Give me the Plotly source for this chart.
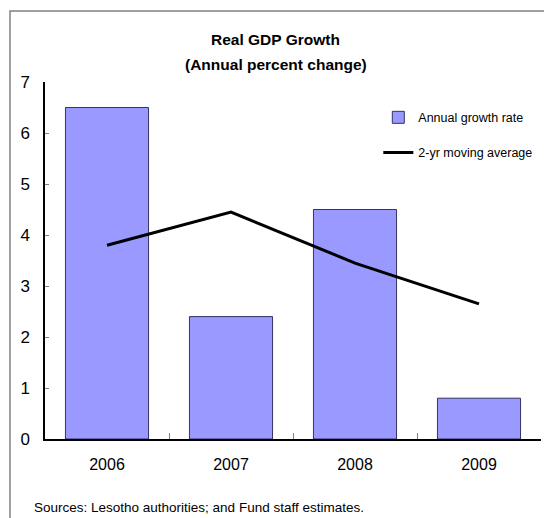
import plotly.graph_objects as go

years = ["2006", "2007", "2008", "2009"]
growth = [6.5, 2.4, 4.5, 0.8]
moving_avg = [3.8, 4.45, 3.45, 2.65]
y_ticks = [0, 1, 2, 3, 4, 5, 6, 7]

FONT = "Liberation Sans, Arial, sans-serif"

fig = go.Figure()
fig.add_trace(go.Bar(
    x=years, y=growth, name="Annual growth rate",
    marker=dict(color="#9999FF", line=dict(color="#333366", width=1)),
    legendgroup="a",
))
fig.add_trace(go.Scatter(
    x=years, y=moving_avg, name="2-yr moving average", mode="lines",
    line=dict(color="black", width=3),
    legendgroup="b",
))

fig.update_layout(
    width=544, height=518,
    margin=dict(l=45, r=3, t=82, b=79),
    paper_bgcolor="white", plot_bgcolor="white",
    bargap=0.33,
    font=dict(family=FONT, size=16, color="black"),
    showlegend=True,
    legend=dict(
        x=0.672, y=0.942, xanchor="left", yanchor="top",
        font=dict(family=FONT, size=12.5, color="black"),
        bgcolor="rgba(0,0,0,0)",
        traceorder="grouped", tracegroupgap=16,
        itemwidth=30,
    ),
)

fig.update_xaxes(
    type="category",
    showline=True, linecolor="black", linewidth=1.5,
    ticks="inside", tickson="boundaries", ticklen=6, tickcolor="#808080",
    showgrid=False, zeroline=False,
    tickfont=dict(family=FONT, size=16),
    ticklabelstandoff=10,
)
fig.update_yaxes(
    range=[0, 7], tickvals=y_ticks,
    showline=True, linecolor="black", linewidth=1.5,
    ticks="inside", ticklen=4, tickcolor="#808080",
    showgrid=False, zeroline=False,
    tickfont=dict(family=FONT, size=17),
    ticklabelstandoff=10,
)

fig.add_annotation(
    text="<b>Real GDP Growth</b>", x=0.465, y=1.118, xref="paper", yref="paper",
    xanchor="center", yanchor="middle", showarrow=False,
    font=dict(family=FONT, size=15.5),
)
fig.add_annotation(
    text="<b>(Annual percent change)</b>", x=0.465, y=1.05, xref="paper", yref="paper",
    xanchor="center", yanchor="middle", showarrow=False,
    font=dict(family=FONT, size=15.5),
)
fig.add_annotation(
    text="Sources: Lesotho authorities; and Fund staff estimates.",
    x=-0.026, y=-0.193, xref="paper", yref="paper",
    xanchor="left", yanchor="middle", showarrow=False,
    font=dict(family=FONT, size=13.5),
)

# outer frame
fig.add_shape(
    type="rect", xref="paper", yref="paper",
    x0=-0.0706, y0=-0.4, x1=1.2, y1=1.199,
    line=dict(color="#808080", width=1.5), layer="below",
)

fig.write_html("out.html")
